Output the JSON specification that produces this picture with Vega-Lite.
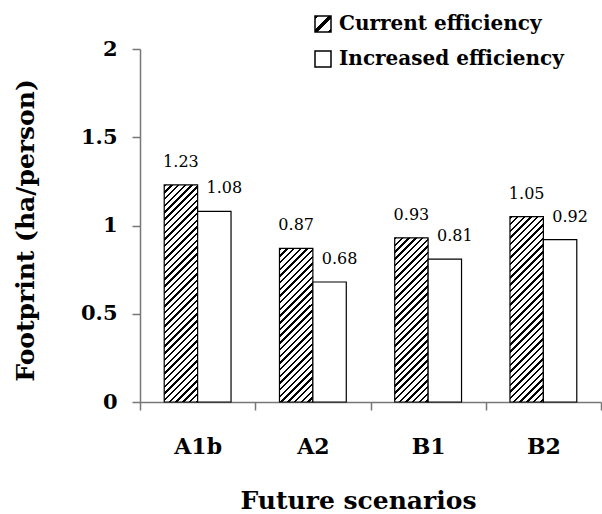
{
"$schema":"https://vega.github.io/schema/vega-lite/v6.json",
"width":461,"height":353,
"autosize":{"type":"none"},
"padding":{"left":140,"top":49,"right":1,"bottom":112},
"data":{"values":[
{"scenario":"A1b","type":"Current efficiency","value":1.23},
{"scenario":"A1b","type":"Increased efficiency","value":1.08},
{"scenario":"A2","type":"Current efficiency","value":0.87},
{"scenario":"A2","type":"Increased efficiency","value":0.68},
{"scenario":"B1","type":"Current efficiency","value":0.93},
{"scenario":"B1","type":"Increased efficiency","value":0.81},
{"scenario":"B2","type":"Current efficiency","value":1.05},
{"scenario":"B2","type":"Increased efficiency","value":0.92}
]},
"encoding":{
"x":{"field":"scenario","type":"nominal","title":"Future scenarios","scale":{"paddingInner":0,"paddingOuter":0},
"axis":{"tickBand":"extent","labelAngle":0,"labelFont":"DejaVu Serif","labelFontWeight":"bold","labelFontSize":22,"labelColor":"#000","labelPadding":26,"tickSize":8,
"titleFont":"DejaVu Serif","titleFontWeight":"bold","titleFontSize":25,"titleColor":"#000","titleX":218,"titleY":106,"titleBaseline":"alphabetic","titleAlign":"center"}},
"xOffset":{"field":"type","type":"nominal","scale":{"paddingInner":0,"paddingOuter":0.725}},
"y":{"field":"value","type":"quantitative","title":"Footprint (ha/person)","scale":{"domain":[0,2]},
"axis":{"values":[0,0.5,1,1.5,2],"format":"~g","labelFont":"DejaVu Serif","labelFontWeight":"bold","labelFontSize":21,"labelColor":"#000","labelPadding":15,"tickSize":8,
"titleFont":"DejaVu Serif","titleFontWeight":"bold","titleFontSize":25,"titleColor":"#000","titleX":-107,"titleY":181,"titleAngle":-90,"titleAlign":"center","titleBaseline":"alphabetic"}}
},
"layer":[
{"mark":{"type":"bar","strokeWidth":1.2,"stroke":"#000"},
"encoding":{
"fill":{"field":"type","type":"nominal",
"scale":{"range":[{"expr":"{gradient: 'linear', x1: 0, y1: 0, x2: 1, y2: 1, stops: [{offset: 0, color: '#000'}, {offset: 0.12, color: '#000'}, {offset: 0.12, color: '#fff'}, {offset: 0.41, color: '#fff'}, {offset: 0.41, color: '#000'}, {offset: 0.59, color: '#000'}, {offset: 0.59, color: '#fff'}, {offset: 0.88, color: '#fff'}, {offset: 0.88, color: '#000'}, {offset: 1, color: '#000'}]}"},"#fff"]},
"legend":{"title":null,"orient":"none","legendX":173,"legendY":-35,"padding":0,"symbolType":"square","symbolSize":256,"symbolStrokeWidth":1.5,"symbolStrokeColor":"#000","symbolOpacity":1,"labelFont":"DejaVu Serif","labelFontWeight":"bold","labelFontSize":20,"labelColor":"#000","labelOffset":6,"labelLimit":400,"rowPadding":13},
"condition":[
{"test":"datum.scenario === 'A1b' && datum.type === 'Current efficiency'","value":{"gradient":"linear","x1":0,"y1":0,"x2":0.1855,"y2":1.2058,"stops":[
{"offset":0,"color":"#000"},{"offset":0.009,"color":"#000"},{"offset":0.009,"color":"#fff"},{"offset":0.025,"color":"#fff"},
{"offset":0.025,"color":"#000"},{"offset":0.034,"color":"#000"},{"offset":0.034,"color":"#fff"},{"offset":0.05,"color":"#fff"},
{"offset":0.05,"color":"#000"},{"offset":0.059,"color":"#000"},{"offset":0.059,"color":"#fff"},{"offset":0.075,"color":"#fff"},
{"offset":0.075,"color":"#000"},{"offset":0.084,"color":"#000"},{"offset":0.084,"color":"#fff"},{"offset":0.1,"color":"#fff"},
{"offset":0.1,"color":"#000"},{"offset":0.109,"color":"#000"},{"offset":0.109,"color":"#fff"},{"offset":0.125,"color":"#fff"},
{"offset":0.125,"color":"#000"},{"offset":0.134,"color":"#000"},{"offset":0.134,"color":"#fff"},{"offset":0.15,"color":"#fff"},
{"offset":0.15,"color":"#000"},{"offset":0.159,"color":"#000"},{"offset":0.159,"color":"#fff"},{"offset":0.175,"color":"#fff"},
{"offset":0.175,"color":"#000"},{"offset":0.184,"color":"#000"},{"offset":0.184,"color":"#fff"},{"offset":0.2,"color":"#fff"},
{"offset":0.2,"color":"#000"},{"offset":0.209,"color":"#000"},{"offset":0.209,"color":"#fff"},{"offset":0.225,"color":"#fff"},
{"offset":0.225,"color":"#000"},{"offset":0.234,"color":"#000"},{"offset":0.234,"color":"#fff"},{"offset":0.25,"color":"#fff"},
{"offset":0.25,"color":"#000"},{"offset":0.259,"color":"#000"},{"offset":0.259,"color":"#fff"},{"offset":0.275,"color":"#fff"},
{"offset":0.275,"color":"#000"},{"offset":0.284,"color":"#000"},{"offset":0.284,"color":"#fff"},{"offset":0.3,"color":"#fff"},
{"offset":0.3,"color":"#000"},{"offset":0.309,"color":"#000"},{"offset":0.309,"color":"#fff"},{"offset":0.325,"color":"#fff"},
{"offset":0.325,"color":"#000"},{"offset":0.334,"color":"#000"},{"offset":0.334,"color":"#fff"},{"offset":0.35,"color":"#fff"},
{"offset":0.35,"color":"#000"},{"offset":0.359,"color":"#000"},{"offset":0.359,"color":"#fff"},{"offset":0.375,"color":"#fff"},
{"offset":0.375,"color":"#000"},{"offset":0.384,"color":"#000"},{"offset":0.384,"color":"#fff"},{"offset":0.4,"color":"#fff"},
{"offset":0.4,"color":"#000"},{"offset":0.409,"color":"#000"},{"offset":0.409,"color":"#fff"},{"offset":0.425,"color":"#fff"},
{"offset":0.425,"color":"#000"},{"offset":0.434,"color":"#000"},{"offset":0.434,"color":"#fff"},{"offset":0.45,"color":"#fff"},
{"offset":0.45,"color":"#000"},{"offset":0.459,"color":"#000"},{"offset":0.459,"color":"#fff"},{"offset":0.475,"color":"#fff"},
{"offset":0.475,"color":"#000"},{"offset":0.484,"color":"#000"},{"offset":0.484,"color":"#fff"},{"offset":0.5,"color":"#fff"},
{"offset":0.5,"color":"#000"},{"offset":0.509,"color":"#000"},{"offset":0.509,"color":"#fff"},{"offset":0.525,"color":"#fff"},
{"offset":0.525,"color":"#000"},{"offset":0.534,"color":"#000"},{"offset":0.534,"color":"#fff"},{"offset":0.55,"color":"#fff"},
{"offset":0.55,"color":"#000"},{"offset":0.559,"color":"#000"},{"offset":0.559,"color":"#fff"},{"offset":0.575,"color":"#fff"},
{"offset":0.575,"color":"#000"},{"offset":0.584,"color":"#000"},{"offset":0.584,"color":"#fff"},{"offset":0.6,"color":"#fff"},
{"offset":0.6,"color":"#000"},{"offset":0.609,"color":"#000"},{"offset":0.609,"color":"#fff"},{"offset":0.625,"color":"#fff"},
{"offset":0.625,"color":"#000"},{"offset":0.634,"color":"#000"},{"offset":0.634,"color":"#fff"},{"offset":0.65,"color":"#fff"},
{"offset":0.65,"color":"#000"},{"offset":0.659,"color":"#000"},{"offset":0.659,"color":"#fff"},{"offset":0.675,"color":"#fff"},
{"offset":0.675,"color":"#000"},{"offset":0.684,"color":"#000"},{"offset":0.684,"color":"#fff"},{"offset":0.7,"color":"#fff"},
{"offset":0.7,"color":"#000"},{"offset":0.709,"color":"#000"},{"offset":0.709,"color":"#fff"},{"offset":0.725,"color":"#fff"},
{"offset":0.725,"color":"#000"},{"offset":0.734,"color":"#000"},{"offset":0.734,"color":"#fff"},{"offset":0.75,"color":"#fff"},
{"offset":0.75,"color":"#000"},{"offset":0.759,"color":"#000"},{"offset":0.759,"color":"#fff"},{"offset":0.775,"color":"#fff"},
{"offset":0.775,"color":"#000"},{"offset":0.784,"color":"#000"},{"offset":0.784,"color":"#fff"},{"offset":0.8,"color":"#fff"},
{"offset":0.8,"color":"#000"},{"offset":0.809,"color":"#000"},{"offset":0.809,"color":"#fff"},{"offset":0.825,"color":"#fff"},
{"offset":0.825,"color":"#000"},{"offset":0.834,"color":"#000"},{"offset":0.834,"color":"#fff"},{"offset":0.85,"color":"#fff"},
{"offset":0.85,"color":"#000"},{"offset":0.859,"color":"#000"},{"offset":0.859,"color":"#fff"},{"offset":0.875,"color":"#fff"},
{"offset":0.875,"color":"#000"},{"offset":0.884,"color":"#000"},{"offset":0.884,"color":"#fff"},{"offset":0.9,"color":"#fff"},
{"offset":0.9,"color":"#000"},{"offset":0.909,"color":"#000"},{"offset":0.909,"color":"#fff"},{"offset":0.925,"color":"#fff"},
{"offset":0.925,"color":"#000"},{"offset":0.934,"color":"#000"},{"offset":0.934,"color":"#fff"},{"offset":0.95,"color":"#fff"},
{"offset":0.95,"color":"#000"},{"offset":0.959,"color":"#000"},{"offset":0.959,"color":"#fff"},{"offset":0.975,"color":"#fff"}
]}},
{"test":"datum.scenario === 'A2' && datum.type === 'Current efficiency'","value":{"gradient":"linear","x1":0,"y1":0,"x2":0.3623,"y2":1.666,"stops":[
{"offset":0,"color":"#000"},{"offset":0.009,"color":"#000"},{"offset":0.009,"color":"#fff"},{"offset":0.025,"color":"#fff"},
{"offset":0.025,"color":"#000"},{"offset":0.034,"color":"#000"},{"offset":0.034,"color":"#fff"},{"offset":0.05,"color":"#fff"},
{"offset":0.05,"color":"#000"},{"offset":0.059,"color":"#000"},{"offset":0.059,"color":"#fff"},{"offset":0.075,"color":"#fff"},
{"offset":0.075,"color":"#000"},{"offset":0.084,"color":"#000"},{"offset":0.084,"color":"#fff"},{"offset":0.1,"color":"#fff"},
{"offset":0.1,"color":"#000"},{"offset":0.109,"color":"#000"},{"offset":0.109,"color":"#fff"},{"offset":0.125,"color":"#fff"},
{"offset":0.125,"color":"#000"},{"offset":0.134,"color":"#000"},{"offset":0.134,"color":"#fff"},{"offset":0.15,"color":"#fff"},
{"offset":0.15,"color":"#000"},{"offset":0.159,"color":"#000"},{"offset":0.159,"color":"#fff"},{"offset":0.175,"color":"#fff"},
{"offset":0.175,"color":"#000"},{"offset":0.184,"color":"#000"},{"offset":0.184,"color":"#fff"},{"offset":0.2,"color":"#fff"},
{"offset":0.2,"color":"#000"},{"offset":0.209,"color":"#000"},{"offset":0.209,"color":"#fff"},{"offset":0.225,"color":"#fff"},
{"offset":0.225,"color":"#000"},{"offset":0.234,"color":"#000"},{"offset":0.234,"color":"#fff"},{"offset":0.25,"color":"#fff"},
{"offset":0.25,"color":"#000"},{"offset":0.259,"color":"#000"},{"offset":0.259,"color":"#fff"},{"offset":0.275,"color":"#fff"},
{"offset":0.275,"color":"#000"},{"offset":0.284,"color":"#000"},{"offset":0.284,"color":"#fff"},{"offset":0.3,"color":"#fff"},
{"offset":0.3,"color":"#000"},{"offset":0.309,"color":"#000"},{"offset":0.309,"color":"#fff"},{"offset":0.325,"color":"#fff"},
{"offset":0.325,"color":"#000"},{"offset":0.334,"color":"#000"},{"offset":0.334,"color":"#fff"},{"offset":0.35,"color":"#fff"},
{"offset":0.35,"color":"#000"},{"offset":0.359,"color":"#000"},{"offset":0.359,"color":"#fff"},{"offset":0.375,"color":"#fff"},
{"offset":0.375,"color":"#000"},{"offset":0.384,"color":"#000"},{"offset":0.384,"color":"#fff"},{"offset":0.4,"color":"#fff"},
{"offset":0.4,"color":"#000"},{"offset":0.409,"color":"#000"},{"offset":0.409,"color":"#fff"},{"offset":0.425,"color":"#fff"},
{"offset":0.425,"color":"#000"},{"offset":0.434,"color":"#000"},{"offset":0.434,"color":"#fff"},{"offset":0.45,"color":"#fff"},
{"offset":0.45,"color":"#000"},{"offset":0.459,"color":"#000"},{"offset":0.459,"color":"#fff"},{"offset":0.475,"color":"#fff"},
{"offset":0.475,"color":"#000"},{"offset":0.484,"color":"#000"},{"offset":0.484,"color":"#fff"},{"offset":0.5,"color":"#fff"},
{"offset":0.5,"color":"#000"},{"offset":0.509,"color":"#000"},{"offset":0.509,"color":"#fff"},{"offset":0.525,"color":"#fff"},
{"offset":0.525,"color":"#000"},{"offset":0.534,"color":"#000"},{"offset":0.534,"color":"#fff"},{"offset":0.55,"color":"#fff"},
{"offset":0.55,"color":"#000"},{"offset":0.559,"color":"#000"},{"offset":0.559,"color":"#fff"},{"offset":0.575,"color":"#fff"},
{"offset":0.575,"color":"#000"},{"offset":0.584,"color":"#000"},{"offset":0.584,"color":"#fff"},{"offset":0.6,"color":"#fff"},
{"offset":0.6,"color":"#000"},{"offset":0.609,"color":"#000"},{"offset":0.609,"color":"#fff"},{"offset":0.625,"color":"#fff"},
{"offset":0.625,"color":"#000"},{"offset":0.634,"color":"#000"},{"offset":0.634,"color":"#fff"},{"offset":0.65,"color":"#fff"},
{"offset":0.65,"color":"#000"},{"offset":0.659,"color":"#000"},{"offset":0.659,"color":"#fff"},{"offset":0.675,"color":"#fff"},
{"offset":0.675,"color":"#000"},{"offset":0.684,"color":"#000"},{"offset":0.684,"color":"#fff"},{"offset":0.7,"color":"#fff"},
{"offset":0.7,"color":"#000"},{"offset":0.709,"color":"#000"},{"offset":0.709,"color":"#fff"},{"offset":0.725,"color":"#fff"}
]}},
{"test":"datum.scenario === 'B1' && datum.type === 'Current efficiency'","value":{"gradient":"linear","x1":0,"y1":0,"x2":0.3192,"y2":1.568,"stops":[
{"offset":0,"color":"#000"},{"offset":0.009,"color":"#000"},{"offset":0.009,"color":"#fff"},{"offset":0.025,"color":"#fff"},
{"offset":0.025,"color":"#000"},{"offset":0.034,"color":"#000"},{"offset":0.034,"color":"#fff"},{"offset":0.05,"color":"#fff"},
{"offset":0.05,"color":"#000"},{"offset":0.059,"color":"#000"},{"offset":0.059,"color":"#fff"},{"offset":0.075,"color":"#fff"},
{"offset":0.075,"color":"#000"},{"offset":0.084,"color":"#000"},{"offset":0.084,"color":"#fff"},{"offset":0.1,"color":"#fff"},
{"offset":0.1,"color":"#000"},{"offset":0.109,"color":"#000"},{"offset":0.109,"color":"#fff"},{"offset":0.125,"color":"#fff"},
{"offset":0.125,"color":"#000"},{"offset":0.134,"color":"#000"},{"offset":0.134,"color":"#fff"},{"offset":0.15,"color":"#fff"},
{"offset":0.15,"color":"#000"},{"offset":0.159,"color":"#000"},{"offset":0.159,"color":"#fff"},{"offset":0.175,"color":"#fff"},
{"offset":0.175,"color":"#000"},{"offset":0.184,"color":"#000"},{"offset":0.184,"color":"#fff"},{"offset":0.2,"color":"#fff"},
{"offset":0.2,"color":"#000"},{"offset":0.209,"color":"#000"},{"offset":0.209,"color":"#fff"},{"offset":0.225,"color":"#fff"},
{"offset":0.225,"color":"#000"},{"offset":0.234,"color":"#000"},{"offset":0.234,"color":"#fff"},{"offset":0.25,"color":"#fff"},
{"offset":0.25,"color":"#000"},{"offset":0.259,"color":"#000"},{"offset":0.259,"color":"#fff"},{"offset":0.275,"color":"#fff"},
{"offset":0.275,"color":"#000"},{"offset":0.284,"color":"#000"},{"offset":0.284,"color":"#fff"},{"offset":0.3,"color":"#fff"},
{"offset":0.3,"color":"#000"},{"offset":0.309,"color":"#000"},{"offset":0.309,"color":"#fff"},{"offset":0.325,"color":"#fff"},
{"offset":0.325,"color":"#000"},{"offset":0.334,"color":"#000"},{"offset":0.334,"color":"#fff"},{"offset":0.35,"color":"#fff"},
{"offset":0.35,"color":"#000"},{"offset":0.359,"color":"#000"},{"offset":0.359,"color":"#fff"},{"offset":0.375,"color":"#fff"},
{"offset":0.375,"color":"#000"},{"offset":0.384,"color":"#000"},{"offset":0.384,"color":"#fff"},{"offset":0.4,"color":"#fff"},
{"offset":0.4,"color":"#000"},{"offset":0.409,"color":"#000"},{"offset":0.409,"color":"#fff"},{"offset":0.425,"color":"#fff"},
{"offset":0.425,"color":"#000"},{"offset":0.434,"color":"#000"},{"offset":0.434,"color":"#fff"},{"offset":0.45,"color":"#fff"},
{"offset":0.45,"color":"#000"},{"offset":0.459,"color":"#000"},{"offset":0.459,"color":"#fff"},{"offset":0.475,"color":"#fff"},
{"offset":0.475,"color":"#000"},{"offset":0.484,"color":"#000"},{"offset":0.484,"color":"#fff"},{"offset":0.5,"color":"#fff"},
{"offset":0.5,"color":"#000"},{"offset":0.509,"color":"#000"},{"offset":0.509,"color":"#fff"},{"offset":0.525,"color":"#fff"},
{"offset":0.525,"color":"#000"},{"offset":0.534,"color":"#000"},{"offset":0.534,"color":"#fff"},{"offset":0.55,"color":"#fff"},
{"offset":0.55,"color":"#000"},{"offset":0.559,"color":"#000"},{"offset":0.559,"color":"#fff"},{"offset":0.575,"color":"#fff"},
{"offset":0.575,"color":"#000"},{"offset":0.584,"color":"#000"},{"offset":0.584,"color":"#fff"},{"offset":0.6,"color":"#fff"},
{"offset":0.6,"color":"#000"},{"offset":0.609,"color":"#000"},{"offset":0.609,"color":"#fff"},{"offset":0.625,"color":"#fff"},
{"offset":0.625,"color":"#000"},{"offset":0.634,"color":"#000"},{"offset":0.634,"color":"#fff"},{"offset":0.65,"color":"#fff"},
{"offset":0.65,"color":"#000"},{"offset":0.659,"color":"#000"},{"offset":0.659,"color":"#fff"},{"offset":0.675,"color":"#fff"},
{"offset":0.675,"color":"#000"},{"offset":0.684,"color":"#000"},{"offset":0.684,"color":"#fff"},{"offset":0.7,"color":"#fff"},
{"offset":0.7,"color":"#000"},{"offset":0.709,"color":"#000"},{"offset":0.709,"color":"#fff"},{"offset":0.725,"color":"#fff"},
{"offset":0.725,"color":"#000"},{"offset":0.734,"color":"#000"},{"offset":0.734,"color":"#fff"},{"offset":0.75,"color":"#fff"},
{"offset":0.75,"color":"#000"},{"offset":0.759,"color":"#000"},{"offset":0.759,"color":"#fff"},{"offset":0.775,"color":"#fff"}
]}},
{"test":"datum.scenario === 'B2' && datum.type === 'Current efficiency'","value":{"gradient":"linear","x1":0,"y1":0,"x2":0.2525,"y2":1.4008,"stops":[
{"offset":0,"color":"#000"},{"offset":0.009,"color":"#000"},{"offset":0.009,"color":"#fff"},{"offset":0.025,"color":"#fff"},
{"offset":0.025,"color":"#000"},{"offset":0.034,"color":"#000"},{"offset":0.034,"color":"#fff"},{"offset":0.05,"color":"#fff"},
{"offset":0.05,"color":"#000"},{"offset":0.059,"color":"#000"},{"offset":0.059,"color":"#fff"},{"offset":0.075,"color":"#fff"},
{"offset":0.075,"color":"#000"},{"offset":0.084,"color":"#000"},{"offset":0.084,"color":"#fff"},{"offset":0.1,"color":"#fff"},
{"offset":0.1,"color":"#000"},{"offset":0.109,"color":"#000"},{"offset":0.109,"color":"#fff"},{"offset":0.125,"color":"#fff"},
{"offset":0.125,"color":"#000"},{"offset":0.134,"color":"#000"},{"offset":0.134,"color":"#fff"},{"offset":0.15,"color":"#fff"},
{"offset":0.15,"color":"#000"},{"offset":0.159,"color":"#000"},{"offset":0.159,"color":"#fff"},{"offset":0.175,"color":"#fff"},
{"offset":0.175,"color":"#000"},{"offset":0.184,"color":"#000"},{"offset":0.184,"color":"#fff"},{"offset":0.2,"color":"#fff"},
{"offset":0.2,"color":"#000"},{"offset":0.209,"color":"#000"},{"offset":0.209,"color":"#fff"},{"offset":0.225,"color":"#fff"},
{"offset":0.225,"color":"#000"},{"offset":0.234,"color":"#000"},{"offset":0.234,"color":"#fff"},{"offset":0.25,"color":"#fff"},
{"offset":0.25,"color":"#000"},{"offset":0.259,"color":"#000"},{"offset":0.259,"color":"#fff"},{"offset":0.275,"color":"#fff"},
{"offset":0.275,"color":"#000"},{"offset":0.284,"color":"#000"},{"offset":0.284,"color":"#fff"},{"offset":0.3,"color":"#fff"},
{"offset":0.3,"color":"#000"},{"offset":0.309,"color":"#000"},{"offset":0.309,"color":"#fff"},{"offset":0.325,"color":"#fff"},
{"offset":0.325,"color":"#000"},{"offset":0.334,"color":"#000"},{"offset":0.334,"color":"#fff"},{"offset":0.35,"color":"#fff"},
{"offset":0.35,"color":"#000"},{"offset":0.359,"color":"#000"},{"offset":0.359,"color":"#fff"},{"offset":0.375,"color":"#fff"},
{"offset":0.375,"color":"#000"},{"offset":0.384,"color":"#000"},{"offset":0.384,"color":"#fff"},{"offset":0.4,"color":"#fff"},
{"offset":0.4,"color":"#000"},{"offset":0.409,"color":"#000"},{"offset":0.409,"color":"#fff"},{"offset":0.425,"color":"#fff"},
{"offset":0.425,"color":"#000"},{"offset":0.434,"color":"#000"},{"offset":0.434,"color":"#fff"},{"offset":0.45,"color":"#fff"},
{"offset":0.45,"color":"#000"},{"offset":0.459,"color":"#000"},{"offset":0.459,"color":"#fff"},{"offset":0.475,"color":"#fff"},
{"offset":0.475,"color":"#000"},{"offset":0.484,"color":"#000"},{"offset":0.484,"color":"#fff"},{"offset":0.5,"color":"#fff"},
{"offset":0.5,"color":"#000"},{"offset":0.509,"color":"#000"},{"offset":0.509,"color":"#fff"},{"offset":0.525,"color":"#fff"},
{"offset":0.525,"color":"#000"},{"offset":0.534,"color":"#000"},{"offset":0.534,"color":"#fff"},{"offset":0.55,"color":"#fff"},
{"offset":0.55,"color":"#000"},{"offset":0.559,"color":"#000"},{"offset":0.559,"color":"#fff"},{"offset":0.575,"color":"#fff"},
{"offset":0.575,"color":"#000"},{"offset":0.584,"color":"#000"},{"offset":0.584,"color":"#fff"},{"offset":0.6,"color":"#fff"},
{"offset":0.6,"color":"#000"},{"offset":0.609,"color":"#000"},{"offset":0.609,"color":"#fff"},{"offset":0.625,"color":"#fff"},
{"offset":0.625,"color":"#000"},{"offset":0.634,"color":"#000"},{"offset":0.634,"color":"#fff"},{"offset":0.65,"color":"#fff"},
{"offset":0.65,"color":"#000"},{"offset":0.659,"color":"#000"},{"offset":0.659,"color":"#fff"},{"offset":0.675,"color":"#fff"},
{"offset":0.675,"color":"#000"},{"offset":0.684,"color":"#000"},{"offset":0.684,"color":"#fff"},{"offset":0.7,"color":"#fff"},
{"offset":0.7,"color":"#000"},{"offset":0.709,"color":"#000"},{"offset":0.709,"color":"#fff"},{"offset":0.725,"color":"#fff"},
{"offset":0.725,"color":"#000"},{"offset":0.734,"color":"#000"},{"offset":0.734,"color":"#fff"},{"offset":0.75,"color":"#fff"},
{"offset":0.75,"color":"#000"},{"offset":0.759,"color":"#000"},{"offset":0.759,"color":"#fff"},{"offset":0.775,"color":"#fff"},
{"offset":0.775,"color":"#000"},{"offset":0.784,"color":"#000"},{"offset":0.784,"color":"#fff"},{"offset":0.8,"color":"#fff"},
{"offset":0.8,"color":"#000"},{"offset":0.809,"color":"#000"},{"offset":0.809,"color":"#fff"},{"offset":0.825,"color":"#fff"},
{"offset":0.825,"color":"#000"},{"offset":0.834,"color":"#000"},{"offset":0.834,"color":"#fff"},{"offset":0.85,"color":"#fff"}
]}}
]}
}},
{"transform":[{"filter":"datum.type === 'Current efficiency'"}],
"mark":{"type":"text","font":"DejaVu Serif","fontSize":16,"color":"#000","baseline":"alphabetic","align":"center","dy":-18},
"encoding":{"text":{"field":"value","type":"quantitative","format":".2f"}}},
{"transform":[{"filter":"datum.type === 'Increased efficiency'"}],
"mark":{"type":"text","font":"DejaVu Serif","fontSize":16,"color":"#000","baseline":"alphabetic","align":"center","dx":10,"dy":-18},
"encoding":{"text":{"field":"value","type":"quantitative","format":".2f"}}}
],
"config":{
"view":{"stroke":null},
"axis":{"grid":false,"domainColor":"#777","domainWidth":1.5,"tickColor":"#777","tickWidth":1.5}
}
}
